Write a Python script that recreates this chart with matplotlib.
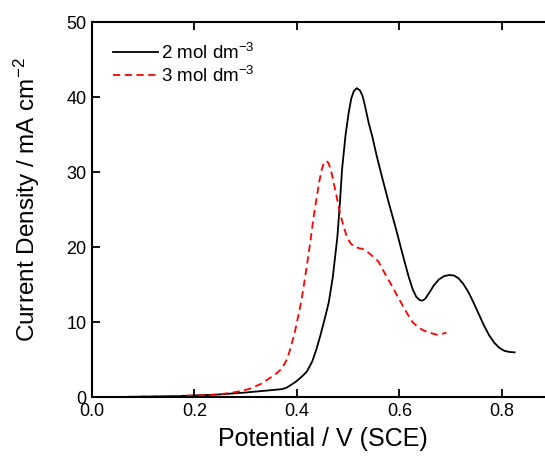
import matplotlib.pyplot as plt

plt.rcParams['font.family'] = ['Liberation Sans', 'DejaVu Sans']
plt.rcParams['mathtext.fontset'] = 'custom'
plt.rcParams['mathtext.rm'] = 'Liberation Sans'
plt.rcParams['mathtext.it'] = 'Liberation Sans:italic'
plt.rcParams['mathtext.bf'] = 'Liberation Sans:bold'

# 2 mol dm-3 (black, solid)
pot_2m = [0.0, 0.05, 0.10, 0.15, 0.20, 0.25, 0.30, 0.34, 0.371, 0.38, 0.387, 0.395,
          0.40, 0.41, 0.419, 0.43, 0.438, 0.446, 0.454, 0.462, 0.470, 0.479, 0.484,
          0.488, 0.495, 0.501, 0.506, 0.511, 0.517, 0.523, 0.528, 0.533, 0.540,
          0.547, 0.556, 0.566, 0.579, 0.592, 0.605, 0.618, 0.626, 0.633, 0.640,
          0.645, 0.650, 0.658, 0.667, 0.677, 0.687, 0.697, 0.706, 0.715, 0.725,
          0.735, 0.745, 0.755, 0.765, 0.775, 0.785, 0.795, 0.805, 0.815, 0.825]
cur_2m = [0.0, 0.05, 0.1, 0.15, 0.25, 0.4, 0.65, 0.9, 1.1, 1.3, 1.6, 1.95,
          2.2, 2.8, 3.4, 4.8, 6.4, 8.3, 10.4, 12.6, 16.0, 21.4, 26.0,
          30.3, 35.0, 37.9, 39.8, 40.8, 41.2, 40.9, 40.2, 38.8, 36.6,
          34.8, 32.1, 29.4, 26.0, 22.8, 19.4, 16.1, 14.4, 13.4, 12.95,
          12.9, 13.1, 13.9, 14.9, 15.7, 16.15, 16.3, 16.25, 15.9, 15.1,
          14.0, 12.6, 11.1, 9.6, 8.3, 7.3, 6.6, 6.2, 6.05, 6.0]

# 3 mol dm-3 (red, dashed)
pot_3m = [0.0, 0.05, 0.10, 0.15, 0.20, 0.243, 0.28, 0.306, 0.33, 0.352, 0.362, 0.371,
          0.38, 0.385, 0.390, 0.395, 0.40, 0.405, 0.410, 0.418, 0.426, 0.432, 0.439,
          0.444, 0.449, 0.453, 0.457, 0.461, 0.465, 0.469, 0.473, 0.478, 0.484,
          0.491, 0.498, 0.505, 0.512, 0.520, 0.527, 0.534, 0.541, 0.548, 0.555,
          0.560, 0.567, 0.575, 0.586, 0.596, 0.606, 0.615, 0.626, 0.636, 0.645,
          0.655, 0.665, 0.673, 0.682, 0.692]
cur_3m = [0.0, 0.05, 0.1, 0.15, 0.25, 0.35, 0.7, 1.1, 1.8, 2.8, 3.3, 3.9,
          5.0, 6.0, 7.2, 8.4, 10.0, 11.6, 13.4, 16.9, 20.6, 23.8, 26.8,
          28.9, 30.5, 31.3, 31.5, 31.3, 30.6, 29.5, 28.2, 26.6, 24.6,
          22.8, 21.3, 20.5, 20.1, 19.9, 19.8, 19.6, 19.2, 18.8, 18.4,
          18.0, 17.1, 16.1, 14.8, 13.5, 12.3, 11.2, 10.0, 9.4, 9.0,
          8.7, 8.5, 8.35, 8.45, 8.6]

fig = plt.figure(figsize=(5.45, 4.61), dpi=100)
ax = fig.add_axes([0.1688, 0.138, 0.846, 0.814])

ax.plot(pot_2m, cur_2m, color='black', lw=1.3, label='2 mol dm$^{-3}$')
ax.plot(pot_3m, cur_3m, color='red', lw=1.3, ls=(0, (4, 2.5)), label='3 mol dm$^{-3}$')

ax.set_xlim(0, 0.9)
ax.set_ylim(0, 50)
ax.set_xticks([0.0, 0.2, 0.4, 0.6, 0.8])
ax.set_xticklabels(['0.0', '0.2', '0.4', '0.6', '0.8'])
ax.set_yticks([0, 10, 20, 30, 40, 50])
ax.tick_params(direction='in', length=6, width=1.3, labelsize=13, top=True, pad=4)
for s in ax.spines.values():
    s.set_linewidth(1.5)

ax.set_xlabel('Potential / V (SCE)', fontsize=18, labelpad=5)
ax.set_ylabel('Current Density / mA cm$^{-2}$', fontsize=17.5)
ax.yaxis.set_label_coords(-0.108, 0.526)

ax.legend(loc='upper left', frameon=False, fontsize=13.5, handlelength=2.4,
          handletextpad=0.2, labelspacing=0.15, borderpad=0, borderaxespad=0,
          bbox_to_anchor=(0.045, 0.945))

fig.savefig('out.png', dpi=100)
